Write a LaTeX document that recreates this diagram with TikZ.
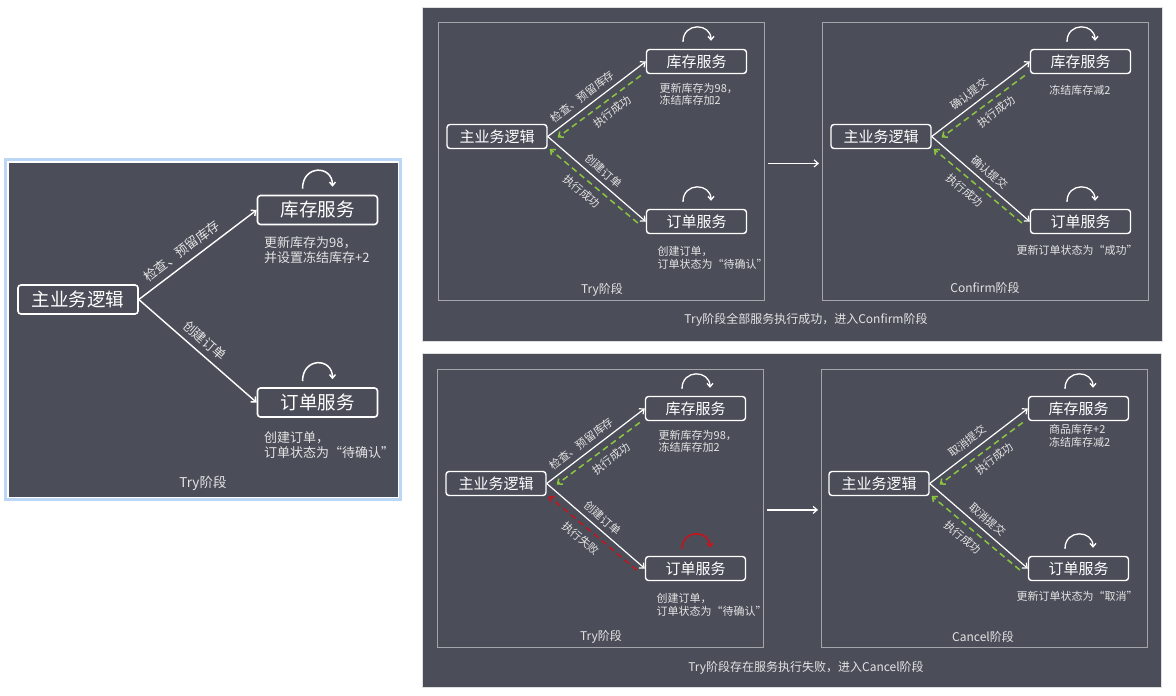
\documentclass[tikz,border=0pt]{standalone}
\usepackage{fontspec}
\setmainfont{Noto Sans CJK SC}
\usetikzlibrary{arrows.meta}
\definecolor{bgdark}{HTML}{4B4E59}
\definecolor{framegray}{HTML}{A3A5AB}
\definecolor{txtgray}{HTML}{E4E4E4}
\definecolor{okgreen}{HTML}{8CC63F}
\definecolor{failred}{HTML}{C4141E}
\definecolor{glowblue}{HTML}{BCD6F6}
\newcommand{\tip}{Straight Barb[length=4pt,width=7pt]}
\tikzset{
  svc/.style={draw=white, line width=1.4pt, rounded corners=3pt, text=white, minimum width=100pt, minimum height=24pt, inner sep=0pt, font=\fontsize{15}{16}\selectfont},
  bigsvc/.style={svc, line width=1.6pt, minimum width=120pt, minimum height=29pt, font=\fontsize{18.5}{20}\selectfont},
  note/.style={text=txtgray, inner sep=0pt, align=left, font=\fontsize{11}{12.5}\selectfont},
  bignote/.style={note, font=\fontsize{13}{15}\selectfont},
  lbl/.style={sloped, text=txtgray, inner sep=1pt, font=\fontsize{11}{12}\selectfont},
  biglbl/.style={lbl, font=\fontsize{13}{14}\selectfont},
  req/.style={white, line width=1.2pt, -{\tip}},
  okback/.style={okgreen, line width=1.5pt, dash pattern=on 6pt off 4pt, -{\tip}},
  failback/.style={okback, failred},
  selfarc/.style={white, line width=1.3pt, -{Straight Barb[length=3.5pt,width=6pt]}},
  stageframe/.style={draw=framegray, line width=0.8pt, minimum width=326pt, minimum height=278pt, anchor=north west, inner sep=0pt},
  panel/.style={fill=bgdark, draw=white!88!gray, line width=1pt}
}

\begin{document}
\begin{tikzpicture}[x=1pt, y=-1pt]
\useasboundingbox[fill=white] (0,0) rectangle (1176,696);
%left
\draw[glowblue, line width=3pt] (5.5,159.5) rectangle (400.5,499.5);
\draw[panel, draw=white] (8,162) rectangle (398,497);
\node[bigsvc] (m0) at (78,299.5) {主业务逻辑};
\node[bigsvc] (k0) at (317.5,210) {库存服务};
\node[bigsvc] (d0) at (317.5,402.5) {订单服务};
\draw[req, line width=1.4pt] (m0.east) -- (k0.west) node[biglbl, above=5pt, pos=0.43] {检查、预留库存};
\draw[req, line width=1.4pt] (m0.east) -- (d0.west) node[biglbl, above=5pt, pos=0.49] {创建订单};
\draw[selfarc, line width=1.5pt] ([xshift=-15pt,yshift=6pt]k0.north) .. controls +(0pt,24pt) and +(0pt,22pt) .. ([xshift=15pt,yshift=8pt]k0.north);
\draw[selfarc, line width=1.5pt] ([xshift=-15pt,yshift=6pt]d0.north) .. controls +(0pt,24pt) and +(0pt,22pt) .. ([xshift=15pt,yshift=8pt]d0.north);
\node[bignote, anchor=west] (n0a) at (264,250.5) {更新库存为98，\\并设置冻结库存+2};
\node[bignote, anchor=west] (n0b) at (264,445.5) {创建订单，\\订单状态为“待确认”};
\node[bignote, font=\fontsize{13.5}{15}\selectfont] (t0) at (203,483) {Try阶段};
%top
\draw[gray!25, line width=2pt] (423,8) rectangle (1162,341);
\fill[bgdark] (423,8) rectangle (1162,341);
\begin{scope}[shift={(438,22)}]
\node[stageframe] (f1) at (0,0) {};
\node[svc] (m1) at (59,114.5) {主业务逻辑};
\node[svc] (k1) at (258.5,39.5) {库存服务};
\node[svc] (d1) at (258.5,199.5) {订单服务};
\draw[req] (m1.east) -- (k1.west) node[lbl, above=4pt, pos=0.42] {检查、预留库存};
\draw[okback] ([xshift=-5pt,yshift=-14pt]k1.west) -- ([xshift=10pt,yshift=-1pt]m1.east) node[lbl, below=5pt, pos=0.43] {执行成功};
\draw[req] (m1.east) -- (d1.west) node[lbl, above=4pt, pos=0.5] {创建订单};
\draw[okback] ([xshift=-8pt,yshift=-1.5pt]d1.west) -- ([xshift=2pt,yshift=-12.5pt]m1.east) node[lbl, below=5pt, pos=0.55] {执行成功};
\draw[selfarc] ([xshift=-13.5pt,yshift=7pt]k1.north) .. controls +(0pt,20pt) and +(0pt,18pt) .. ([xshift=14.5pt,yshift=8pt]k1.north);
\draw[selfarc] ([xshift=-13.5pt,yshift=7pt]d1.north) .. controls +(0pt,20pt) and +(0pt,18pt) .. ([xshift=14.5pt,yshift=8pt]d1.north);
\node[note, anchor=west] (n1a) at (221.5,72.5) {更新库存为98，\\冻结库存加2};
\node[note, anchor=west] (n1b) at (219.5,236) {创建订单，\\订单状态为“待确认”};
\node[note, font=\fontsize{12}{13}\selectfont] (t1) at (164,268) {Try阶段};
\end{scope}
\begin{scope}[shift={(822,22)}]
\node[stageframe] (f2) at (0,0) {};
\node[svc] (m2) at (59,114.5) {主业务逻辑};
\node[svc] (k2) at (258.5,39.5) {库存服务};
\node[svc] (d2) at (258.5,199.5) {订单服务};
\draw[req] (m2.east) -- (k2.west) node[lbl, above=4pt, pos=0.45] {确认提交};
\draw[okback] ([xshift=-5pt,yshift=-14pt]k2.west) -- ([xshift=10pt,yshift=-1pt]m2.east) node[lbl, below=5pt, pos=0.43] {执行成功};
\draw[req] (m2.east) -- (d2.west) node[lbl, above=4pt, pos=0.52] {确认提交};
\draw[okback] ([xshift=-8pt,yshift=-1.5pt]d2.west) -- ([xshift=2pt,yshift=-12.5pt]m2.east) node[lbl, below=5pt, pos=0.56] {执行成功};
\draw[selfarc] ([xshift=-13.5pt,yshift=7pt]k2.north) .. controls +(0pt,20pt) and +(0pt,18pt) .. ([xshift=14.5pt,yshift=8pt]k2.north);
\draw[selfarc] ([xshift=-13.5pt,yshift=7pt]d2.north) .. controls +(0pt,20pt) and +(0pt,18pt) .. ([xshift=14.5pt,yshift=8pt]d2.north);
\node[note] (n2a) at (258,68) {冻结库存减2};
\node[note] (n2b) at (255,228) {更新订单状态为“成功”};
\node[note, font=\fontsize{12}{13}\selectfont] (t2) at (163,266) {Confirm阶段};
\end{scope}
\draw[req] ([xshift=3pt,yshift=-2pt]f1.east) -- ([xshift=-3pt,yshift=-2pt]f2.west);
\node[note, font=\fontsize{12}{13}\selectfont] (c1) at (806,320) {Try阶段全部服务执行成功，进入Confirm阶段};
%bottom
\draw[gray!25, line width=2pt] (423,354) rectangle (1161,687);
\fill[bgdark] (423,354) rectangle (1161,687);
\begin{scope}[shift={(437,369)}]
\node[stageframe] (f3) at (0,0) {};
\node[svc] (m3) at (59,114.5) {主业务逻辑};
\node[svc] (k3) at (258.5,39.5) {库存服务};
\node[svc] (d3) at (258.5,199.5) {订单服务};
\draw[req] (m3.east) -- (k3.west) node[lbl, above=4pt, pos=0.42] {检查、预留库存};
\draw[okback] ([xshift=-5pt,yshift=-14pt]k3.west) -- ([xshift=10pt,yshift=-1pt]m3.east) node[lbl, below=5pt, pos=0.43] {执行成功};
\draw[req] (m3.east) -- (d3.west) node[lbl, above=4pt, pos=0.5] {创建订单};
\draw[failback] ([xshift=-8pt,yshift=-1.5pt]d3.west) -- ([xshift=2pt,yshift=-12.5pt]m3.east) node[lbl, below=5pt, pos=0.55] {执行失败};
\draw[selfarc] ([xshift=-13.5pt,yshift=7pt]k3.north) .. controls +(0pt,20pt) and +(0pt,18pt) .. ([xshift=14.5pt,yshift=8pt]k3.north);
\draw[selfarc, failred, line width=1.6pt] ([xshift=-13.5pt,yshift=7pt]d3.north) .. controls +(0pt,20pt) and +(0pt,18pt) .. ([xshift=14.5pt,yshift=8pt]d3.north);
\node[note, anchor=west] (n3a) at (221.5,72.5) {更新库存为98，\\冻结库存加2};
\node[note, anchor=west] (n3b) at (219.5,236) {创建订单，\\订单状态为“待确认”};
\node[note, font=\fontsize{12}{13}\selectfont] (t3) at (164,268) {Try阶段};
\end{scope}
\begin{scope}[shift={(821,369)}]
\node[stageframe] (f4) at (0,0) {};
\node[svc] (m4) at (58,114.5) {主业务逻辑};
\node[svc] (k4) at (257.5,39.5) {库存服务};
\node[svc] (d4) at (257.5,199.5) {订单服务};
\draw[req] (m4.east) -- (k4.west) node[lbl, above=4pt, pos=0.45] {取消提交};
\draw[okback] ([xshift=-5pt,yshift=-14pt]k4.west) -- ([xshift=10pt,yshift=-1pt]m4.east) node[lbl, below=5pt, pos=0.43] {执行成功};
\draw[req] (m4.east) -- (d4.west) node[lbl, above=4pt, pos=0.52] {取消提交};
\draw[okback] ([xshift=-8pt,yshift=-1.5pt]d4.west) -- ([xshift=2pt,yshift=-12.5pt]m4.east) node[lbl, below=5pt, pos=0.56] {执行成功};
\draw[selfarc] ([xshift=-13.5pt,yshift=7pt]k4.north) .. controls +(0pt,20pt) and +(0pt,18pt) .. ([xshift=14.5pt,yshift=8pt]k4.north);
\draw[selfarc] ([xshift=-13.5pt,yshift=7pt]d4.north) .. controls +(0pt,20pt) and +(0pt,18pt) .. ([xshift=14.5pt,yshift=8pt]d4.north);
\node[note, anchor=west] (n4a) at (228,67) {商品库存+2\\冻结库存减2};
\node[note] (n4b) at (256,227) {更新订单状态为“取消”};
\node[note, font=\fontsize{12}{13}\selectfont] (t4) at (162,268) {Cancel阶段};
\end{scope}
\draw[req] ([xshift=3pt,yshift=-1.5pt]f3.east) -- ([xshift=-3pt,yshift=-1.5pt]f4.west);
\node[note, font=\fontsize{12}{13}\selectfont] (c2) at (806,668) {Try阶段存在服务执行失败，进入Cancel阶段};
\end{tikzpicture}
\end{document}
